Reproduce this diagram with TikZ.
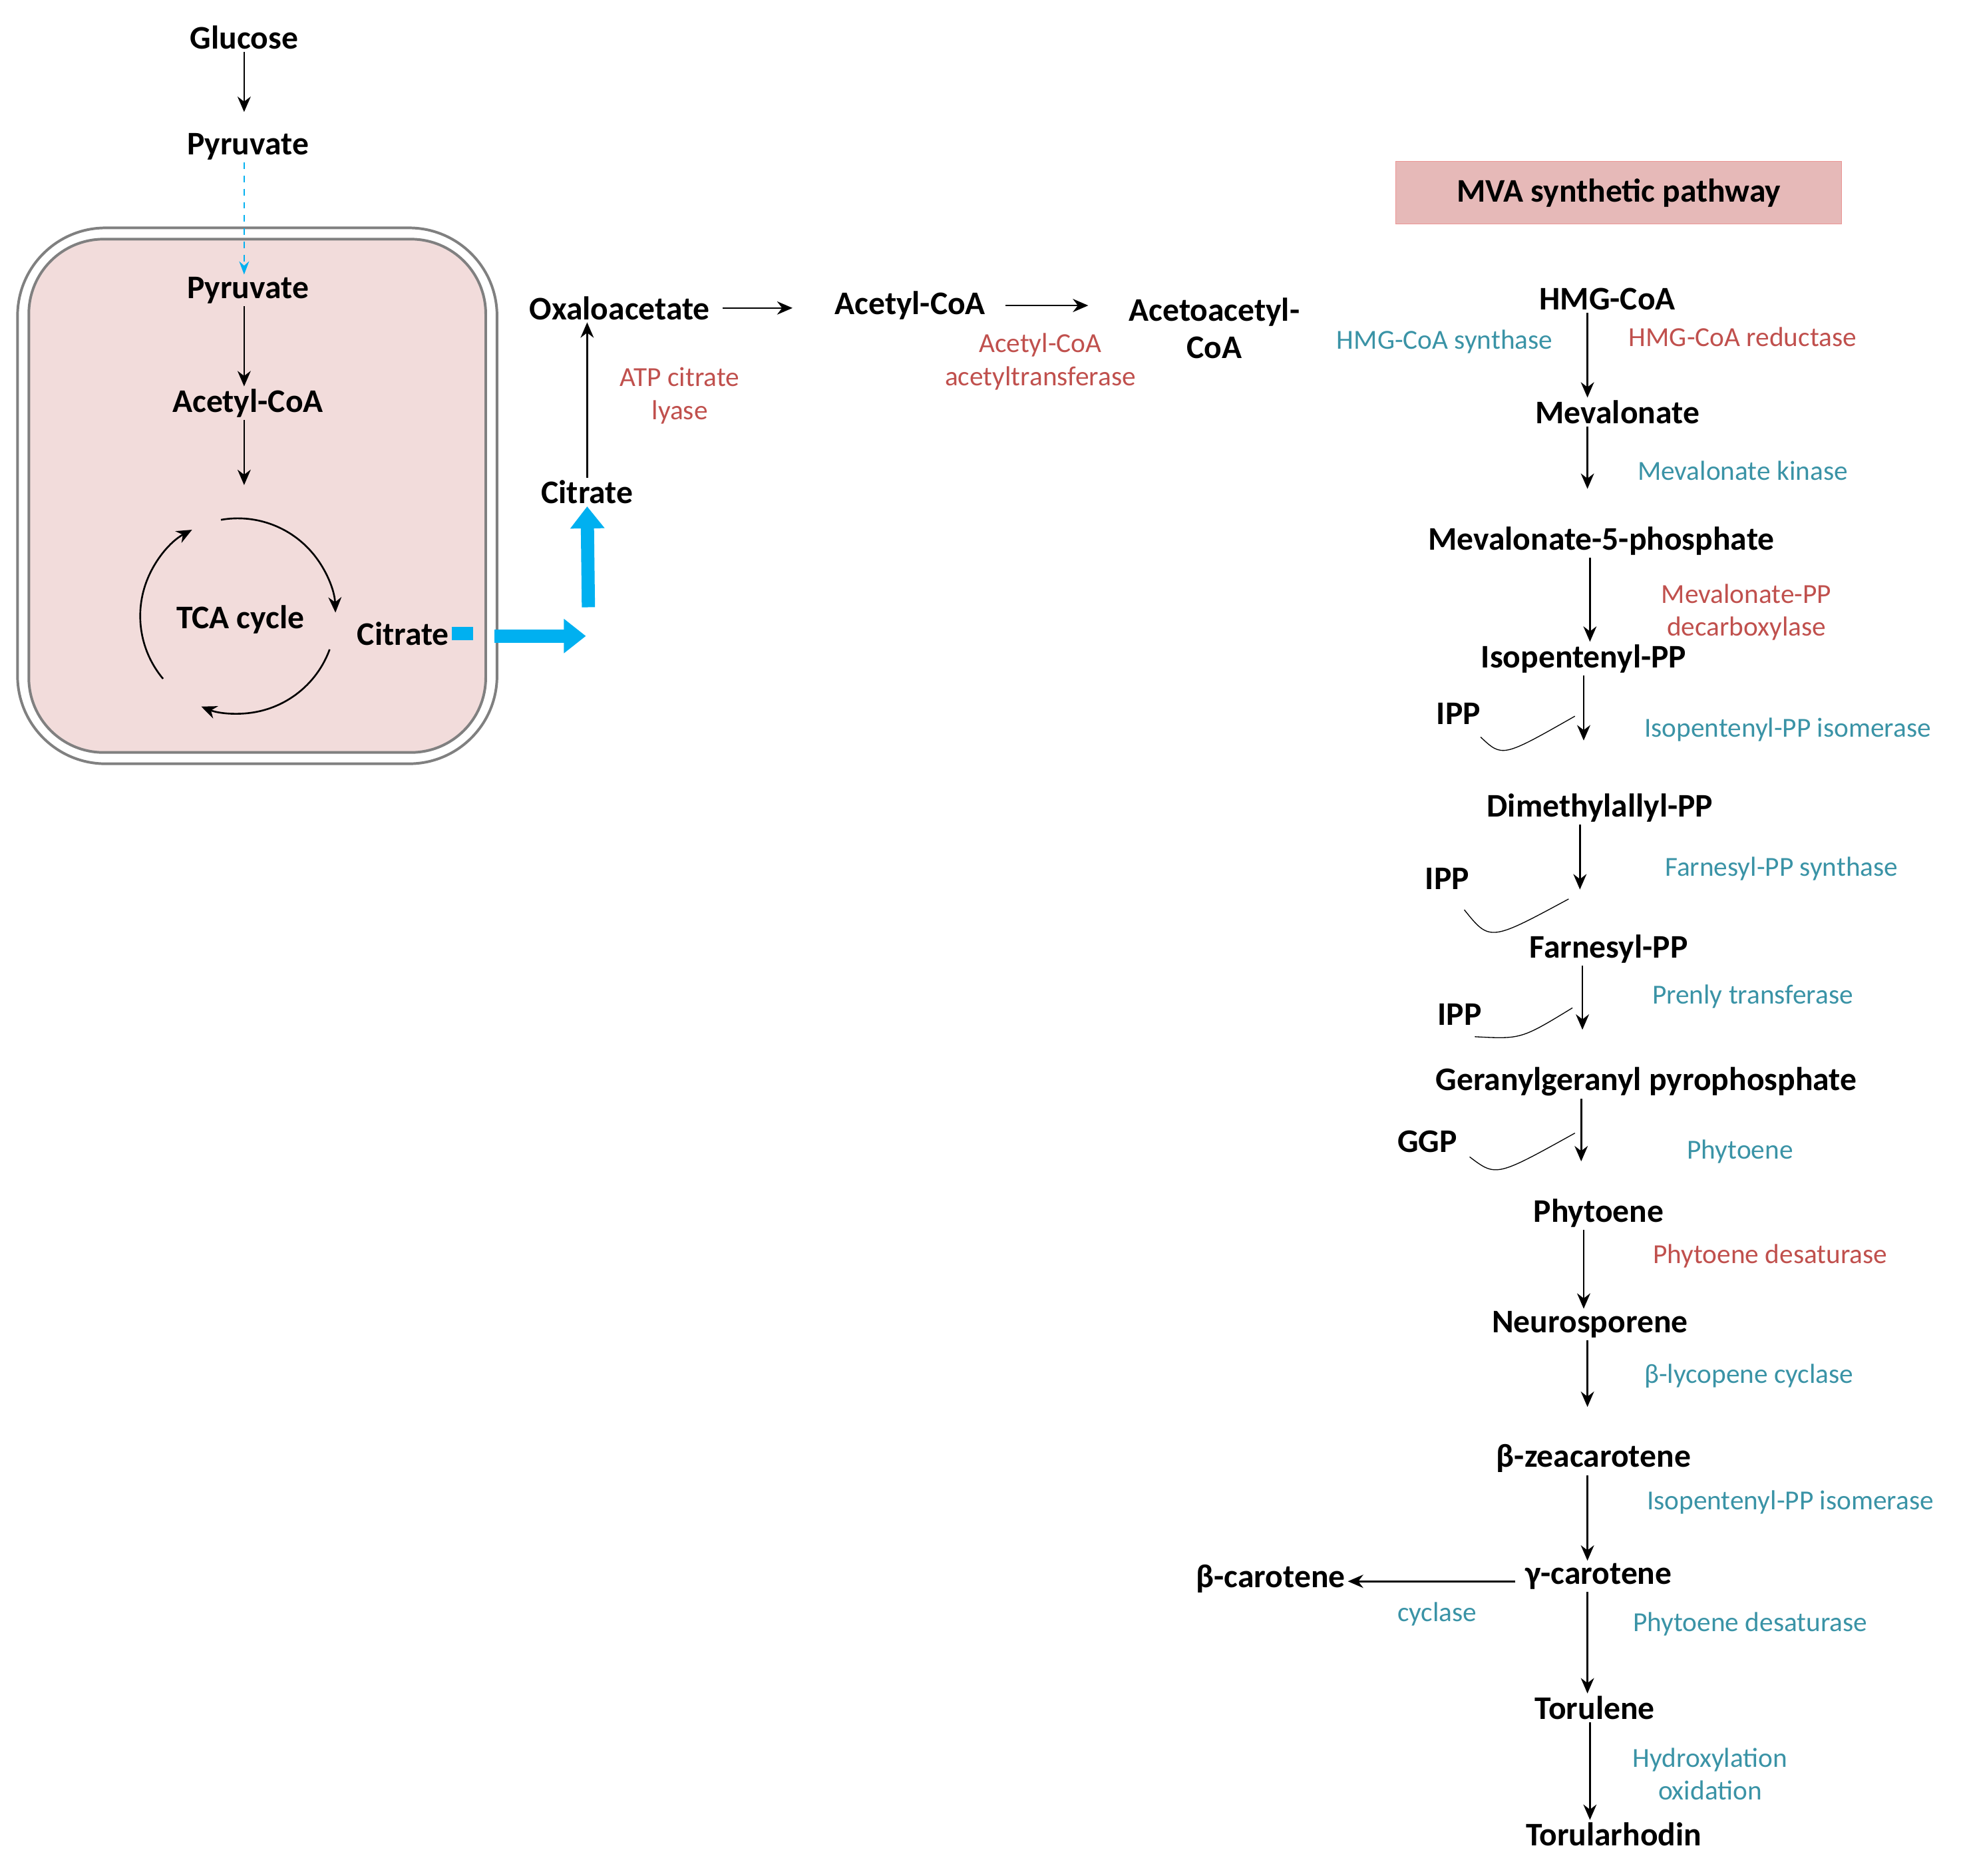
\documentclass[tikz,border=0pt]{standalone}
\usepackage{fontspec}
\setmainfont{Carlito}
\usetikzlibrary{arrows.meta}
\definecolor{enzred}{HTML}{C0504D}
\definecolor{enzteal}{HTML}{3A93A6}
\definecolor{flowblue}{HTML}{00B0F0}
\definecolor{cellfill}{HTML}{F2DCDB}
\definecolor{mvafill}{HTML}{E6B9B8}
\tikzset{
  met/.style={font=\fontsize{15}{17}\selectfont\bfseries, inner sep=1pt},
  red/.style={font=\fontsize{12.5}{15}\selectfont, text=enzred, align=center, inner sep=1pt},
  teal/.style={font=\fontsize{12.5}{15}\selectfont, text=enzteal, align=center, inner sep=1pt},
  arr/.style={thick, -{Stealth[length=7pt,width=6pt]}},
  big/.style={line width=6pt, flowblue, -{Triangle[length=10pt,width=15pt]}}
}
\begin{document}
\begin{tikzpicture}[x=0.02cm, y=0.02cm]
    \useasboundingbox (0,0) rectangle (1568,-1498);
    % cell
    \draw[gray, line width=1.2pt, rounded corners=40pt] (14,-182) rectangle (397,-610);
    \draw[gray, line width=1.2pt, rounded corners=34pt, fill=cellfill] (23,-191) rectangle (388,-601);
    % upper branch
    \node[met] (glu) at (195,-30) {Glucose};
    \node[met] (pyra) at (198,-117) {Pyruvate};
    \node[met] (pyrb) at (198,-232) {Pyruvate};
    \node[met] (acoa) at (198,-322) {Acetyl-CoA};
    \node[met] (tca) at (192,-495) {TCA cycle};
    \node[met] (cita) at (322,-506) {Citrate};
    \node[met] (citb) at (469,-393) {Citrate};
    \node[met] (oxa) at (495,-246) {Oxaloacetate};
    \node[met] (acob) at (727,-244) {Acetyl-CoA};
    \node[met, align=center] (aca) at (970,-262) {Acetoacetyl-\\CoA};
    \node[red] at (543,-316) {ATP citrate\\lyase};
    \node[red] at (831,-289) {Acetyl-CoA\\acetyltransferase};
    \draw[arr] (glu.south -| 195,0) -- ++(0,-48);
    \draw[thick, flowblue, dashed, -{Stealth[length=6pt]}] (pyra.south -| 195,0) -- (pyrb.north -| 195,0);
    \draw[arr] (pyrb.south -| 195,0) -- (acoa.north -| 195,0);
    \draw[arr] (acoa.south -| 195,0) -- ++(0,-52);
    % cycle
    \draw[arr] (190,-492) ++(100:78) arc (100:2:78);
    \draw[arr] (190,-492) ++(-20:78) arc (-20:-112:78);
    \draw[arr] (190,-492) ++(-140:78) arc (-140:-242:78);
    % blue flow
    \draw[line width=6pt, flowblue] (cita.east) -- ++(17,0);
    \coordinate (bend) at (468,-508);
    \draw[big] (395,-508) -- (bend);
    \draw[big] (470,-485) -- (citb.south);
    \draw[arr] (citb.north) -- (oxa.south -| citb);
    \draw[arr] (oxa.east) ++(8,0) -- ++(56,0);
    \draw[arr] (acob.east) ++(14,0) -- ++(66,0);
    % MVA
    \node[met, fill=mvafill, draw=mvafill!80!red, minimum width=356*0.02cm, minimum height=50*0.02cm] at (1293,-154) {MVA synthetic pathway};
    \node[met] (hmg) at (1284,-239) {HMG-CoA};
    \node[met] (mev) at (1292,-329) {Mevalonate};
    \node[met] (mvp) at (1279,-432) {Mevalonate-5-phosphate};
    \node[met] (ipp) at (1265,-526) {Isopentenyl-PP};
    \node[met] (dma) at (1278,-645) {Dimethylallyl-PP};
    \node[met] (fpp) at (1285,-758) {Farnesyl-PP};
    \node[met] (ggpp) at (1315,-864) {Geranylgeranyl pyrophosphate};
    \node[met] (phy) at (1277,-969) {Phytoene};
    \node[met] (neu) at (1270,-1058) {Neurosporene};
    \node[met] (zea) at (1273,-1165) {β-zeacarotene};
    \node[met] (gam) at (1277,-1259) {γ-carotene};
    \node[met] (bet) at (1015,-1261) {β-carotene};
    \node[met] (tor) at (1274,-1364) {Torulene};
    \node[met] (rho) at (1289,-1465) {Torularhodin};
    \node[met] (ia) at (1165,-570) {IPP};
    \node[met] (ib) at (1156,-702) {IPP};
    \node[met] (ic) at (1166,-810) {IPP};
    \node[met] (gg) at (1140,-912) {GGP};
    % enzymes
    \node[teal] at (1154,-273) {HMG-CoA synthase};
    \node[red] at (1392,-269) {HMG-CoA reductase};
    \node[teal] at (1392,-376) {Mevalonate kinase};
    \node[red] at (1395,-489) {Mevalonate-PP\\decarboxylase};
    \node[teal] at (1428,-583) {Isopentenyl-PP isomerase};
    \node[teal] at (1423,-694) {Farnesyl-PP synthase};
    \node[teal] at (1400,-796) {Prenly transferase};
    \node[teal] at (1390,-920) {Phytoene};
    \node[red] at (1414,-1003) {Phytoene desaturase};
    \node[teal] at (1397,-1099) {β-lycopene cyclase};
    \node[teal] at (1430,-1200) {Isopentenyl-PP isomerase};
    \node[teal] at (1148,-1289) {cyclase};
    \node[teal] at (1398,-1297) {Phytoene desaturase};
    \node[teal] at (1366,-1417) {Hydroxylation\\oxidation};
    % chain
    \draw[arr] (hmg.south -| 1268,0) -- (mev.north -| 1268,0);
    \draw[arr] (mev.south -| 1268,0) -- ++(0,-50);
    \draw[arr] (mvp.south -| 1270,0) -- (ipp.north -| 1270,0);
    \draw[arr] (ipp.south -| 1265,0) -- ++(0,-52);
    \draw[arr] (dma.south -| 1262,0) -- ++(0,-52);
    \draw[arr] (fpp.south -| 1264,0) -- ++(0,-51);
    \draw[arr] (ggpp.south -| 1263,0) -- ++(0,-50);
    \draw[arr] (phy.south -| 1265,0) -- (neu.north -| 1265,0);
    \draw[arr] (neu.south -| 1268,0) -- ++(0,-53);
    \draw[arr] (zea.south -| 1268,0) -- (gam.north -| 1268,0);
    \draw[arr] (gam.west) ++(-6,-4) -- (bet.east |- 0,-1263);
    \draw[arr] (gam.south -| 1268,0) -- (tor.north -| 1268,0);
    \draw[arr] (tor.south -| 1270,0) -- (rho.north -| 1270,0);
    % side substrates
    \draw[thin] (ia.south east) ++(-2,-8) .. controls (1200,-605) .. (1258,-572);
    \draw[thin] (ib.south east) ++(-6,-14) .. controls (1190,-752) .. (1253,-718);
    \draw[thin] (1178,-828) .. controls (1215,-830) .. (1256,-805);
    \draw[thin] (gg.east) ++(8,-12) .. controls (1195,-940) .. (1258,-905);
\end{tikzpicture}
\end{document}
